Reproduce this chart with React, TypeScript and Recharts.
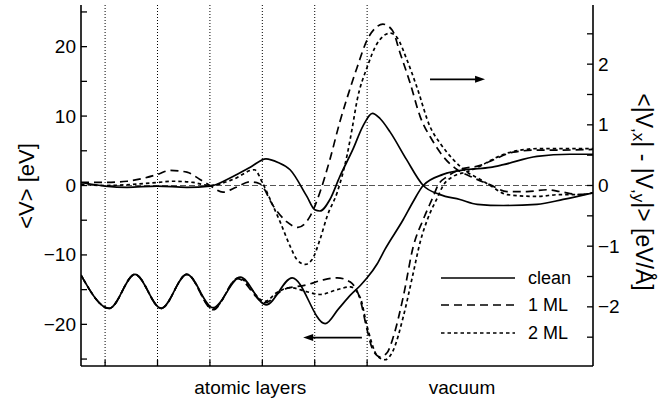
import { LineChart, Line, XAxis, YAxis, ReferenceLine, Legend } from 'recharts'

const FONT = '"Liberation Sans", Arial, Helvetica, sans-serif'

// x in units of the layer spacing, layers sit at 1..6
const layerPositions = [1, 2, 3, 4, 5, 6]
const xDomain = [0.54, 10.31]
const leftTicks = [-25, -20, -15, -10, -5, 0, 5, 10, 15, 20, 25]
const rightTicks = [-2.5, -2, -1.5, -1, -0.5, 0, 0.5, 1, 1.5, 2, 2.5]
const regionLabels = ['atomic layers', 'vacuum']
const regionCenters = [3.77, 7.81]
const seriesNames = ['clean', '1 ML', '2 ML']
const seriesDash = ['0', '8 5', '3.5 3']

// <V> [eV], left axis
const vClean = [
  [0.54, -12.9], [1.08, -17.7], [1.57, -12.8], [2.07, -17.7], [2.56, -12.8], [3.06, -17.6],
  [3.58, -13.2], [4.07, -17.2], [4.57, -13.3], [5.2, -19.9], [5.45, -17.8], [5.68, -15.8],
  [5.87, -14.4], [6.0, -13.3], [6.19, -11.3], [6.34, -9.2], [6.69, -4.9], [6.88, -2.3],
  [7.07, 0], [7.45, 1.6], [7.91, 2.3], [8.35, 2.6], [8.6, 3.0], [9.24, 4.2], [9.87, 4.5], [10.31, 4.5],
]
const v1ML = [
  [0.54, -12.9], [1.08, -17.7], [1.57, -12.8], [2.07, -17.7], [2.56, -12.8], [3.06, -17.9],
  [3.53, -13.4], [4.05, -16.9], [4.4, -15.0], [4.85, -14.3], [5.16, -13.6], [5.43, -13.3],
  [5.68, -13.9], [5.87, -16.5], [6.0, -20.8], [6.11, -23.7], [6.25, -24.7], [6.38, -24.1],
  [6.5, -21.8], [6.69, -16.0], [6.88, -8.8], [7.07, -4.9], [7.26, -1.6], [7.35, 0], [7.53, 1.3],
  [7.77, 2.3], [8.16, 2.9], [8.35, 3.5], [8.79, 4.8], [9.24, 5.1], [9.68, 5.1], [10.31, 5.2],
]
const v2ML = [
  [0.54, -12.9], [1.08, -17.7], [1.57, -12.8], [2.07, -17.7], [2.56, -12.8], [3.06, -17.8],
  [3.55, -13.3], [4.05, -16.7], [4.28, -15.4], [4.53, -14.7], [4.85, -15.3], [5.1, -15.7],
  [5.43, -15.0], [5.68, -14.6], [5.87, -16.2], [6.0, -20.3], [6.19, -24.5], [6.34, -25.1],
  [6.5, -23.7], [6.69, -18.9], [6.88, -12.6], [7.01, -8.2], [7.15, -4.9], [7.35, -1.6], [7.45, 0],
  [7.64, 1.3], [7.91, 2.0], [8.21, 3.0], [8.35, 3.6], [8.79, 4.9], [9.24, 5.3], [10.31, 5.3],
]

// <|V,x| - |V,y|> [eV/Å], right axis
const aClean = [
  [0.54, 0.05], [1.0, -0.01], [1.42, -0.03], [1.99, -0.01], [2.56, -0.03], [3.0, -0.01],
  [3.44, 0.15], [3.77, 0.3], [4.07, 0.44], [4.3, 0.38], [4.53, 0.26], [4.85, -0.18], [5.0, -0.4],
  [5.1, -0.42], [5.29, -0.23], [5.48, 0.15], [5.73, 0.6], [5.92, 0.98], [6.1, 1.19], [6.25, 1.1],
  [6.44, 0.88], [6.75, 0.43], [7.07, 0], [7.39, -0.15], [7.77, -0.23], [8.1, -0.31], [8.6, -0.33],
  [9.24, -0.31], [9.74, -0.23], [10.31, -0.12],
]
const a1ML = [
  [0.54, 0.05], [1.0, 0.05], [1.42, 0.07], [1.99, 0.18], [2.24, 0.25], [2.56, 0.22], [2.81, 0.1],
  [3.0, 0], [3.25, -0.11], [3.5, -0.03], [3.77, 0.06], [3.95, 0.03], [4.21, -0.34], [4.47, -0.6],
  [4.68, -0.69], [4.91, -0.51], [5.1, -0.11], [5.29, 0.43], [5.48, 1.05], [5.62, 1.45], [5.81, 1.95],
  [6.0, 2.4], [6.19, 2.62], [6.3, 2.66], [6.48, 2.56], [6.63, 2.18], [6.82, 1.69], [7.01, 1.14],
  [7.24, 0.75], [7.45, 0.48], [7.72, 0.26], [7.97, 0.15], [8.35, 0.01], [8.67, -0.1], [9.05, -0.1],
  [9.44, -0.07], [9.68, -0.1], [10.06, -0.15], [10.31, -0.12],
]
const a2ML = [
  [0.54, 0.02], [1.0, 0], [1.99, 0.05], [2.3, 0.07], [2.68, 0.05], [3.0, 0], [3.44, 0.1],
  [3.85, 0.26], [4.0, 0.05], [4.15, -0.23], [4.34, -0.6], [4.53, -1.0], [4.66, -1.22], [4.82, -1.3],
  [4.95, -1.22], [5.1, -0.89], [5.24, -0.5], [5.43, -0.11], [5.62, 0.51], [5.71, 0.92], [5.81, 1.41],
  [6.0, 1.95], [6.19, 2.34], [6.44, 2.51], [6.57, 2.44], [6.76, 2.07], [6.95, 1.62], [7.2, 0.97],
  [7.39, 0.7], [7.64, 0.43], [7.91, 0.22], [8.16, 0.1], [8.35, 0], [8.67, -0.15], [9.24, -0.18],
  [9.68, -0.15], [10.06, -0.15], [10.31, -0.12],
]

const pts = (a: number[][]) => a.map(([x, y]) => ({ x, y }))
const fmt = (v: number) => (v < 0 ? '\u2212' + Math.abs(v) : String(v))

function LeftTick({ x, y, payload }: any) {
  const v = payload.value
  return (
    <g>
      <line x1={x + 5} x2={x + 11} y1={y} y2={y} stroke="#000" strokeWidth={1.3} />
      {v % 10 === 0 && (
        <text x={x} y={y} textAnchor="end" dominantBaseline="central" fontSize={19} fontFamily={FONT} fill="#000">
          {fmt(v)}
        </text>
      )}
    </g>
  )
}

function RightTick({ x, y, payload }: any) {
  const v = payload.value
  return (
    <g>
      <line x1={x - 5} x2={x - 11} y1={y} y2={y} stroke="#000" strokeWidth={1.3} />
      {Number.isInteger(v) && (
        <text x={x} y={y} textAnchor="start" dominantBaseline="central" fontSize={19} fontFamily={FONT} fill="#000">
          {fmt(v)}
        </text>
      )}
    </g>
  )
}

function BottomTick({ x, y, payload }: any) {
  const i = regionCenters.indexOf(payload.value)
  if (i >= 0) {
    return (
      <text x={x} y={y + 28} textAnchor="middle" fontSize={19} fontFamily={FONT} fill="#000">
        {regionLabels[i]}
      </text>
    )
  }
  return <line x1={x} x2={x} y1={y} y2={y - 6} stroke="#000" strokeWidth={1.3} />
}

function Arrow({ x1, y1, x2, y2 }: any) {
  const d = Math.sign(x2 - x1)
  return (
    <g>
      <line x1={x1} y1={y1} x2={x2 - d * 6} y2={y2} stroke="#000" strokeWidth={1.7} />
      <polygon points={`${x2},${y2} ${x2 - d * 10},${y2 - 3.5} ${x2 - d * 10},${y2 + 3.5}`} fill="#000" />
    </g>
  )
}

function LegendBox() {
  return (
    <div style={{ fontFamily: FONT, fontSize: 18, color: '#000' }}>
      {seriesNames.map((n, i) => (
        <div key={n} style={{ display: 'flex', alignItems: 'center', height: 27.5 }}>
          <svg width={74} height={4} style={{ display: 'block' }}>
            <line x1={0} x2={74} y1={2} y2={2} stroke="#000" strokeWidth={1.7} strokeDasharray={seriesDash[i]} />
          </svg>
          <span style={{ marginLeft: 13, lineHeight: '18px' }}>{n}</span>
        </div>
      ))}
    </div>
  )
}

export default function App() {
  const lineProps = {
    type: 'monotone' as const,
    dataKey: 'y',
    stroke: '#000',
    strokeWidth: 1.7,
    dot: false,
    isAnimationActive: false,
  }
  return (
    <div style={{ position: 'absolute', left: 0, top: 0, background: '#fff' }}>
      <LineChart width={659} height={406} margin={{ top: 5, right: 0, bottom: 0, left: 0 }}>
        <XAxis
          type="number"
          dataKey="x"
          domain={xDomain}
          allowDataOverflow
          ticks={[...layerPositions, ...regionCenters]}
          interval={0}
          height={40}
          tickSize={0}
          tickMargin={0}
          tickLine={false}
          tick={<BottomTick />}
          axisLine={{ stroke: '#000', strokeWidth: 1.6 }}
        />
        <XAxis
          xAxisId="top"
          orientation="top"
          type="number"
          domain={xDomain}
          height={0}
          tick={false}
          tickLine={false}
          axisLine={{ stroke: '#000', strokeWidth: 1.6 }}
        />
        <YAxis
          yAxisId="left"
          type="number"
          domain={[-26, 26]}
          allowDataOverflow
          ticks={leftTicks}
          interval={0}
          width={81}
          tickSize={0}
          tickMargin={5}
          tickLine={false}
          tick={<LeftTick />}
          axisLine={{ stroke: '#000', strokeWidth: 1.6 }}
          label={{
            content: ({ viewBox }: any) => (
              <text
                x={viewBox.x + 26}
                y={186}
                transform={`rotate(-90 ${viewBox.x + 26} 186)`}
                textAnchor="middle"
                dominantBaseline="central"
                fontSize={22}
                fontFamily={FONT}
                fill="#000"
              >
                {'<V> [eV]'}
              </text>
            ),
          }}
        />
        <YAxis
          yAxisId="right"
          orientation="right"
          type="number"
          domain={[-2.975, 2.975]}
          allowDataOverflow
          ticks={rightTicks}
          interval={0}
          width={66}
          tickSize={0}
          tickMargin={5}
          tickLine={false}
          tick={<RightTick />}
          axisLine={{ stroke: '#000', strokeWidth: 1.6 }}
          label={{
            content: ({ viewBox }: any) => {
              const cx = viewBox.x + 51
              return (
                <text
                  x={cx}
                  y={192}
                  transform={`rotate(90 ${cx} 192)`}
                  textAnchor="middle"
                  dominantBaseline="central"
                  fontSize={23}
                  fontFamily={FONT}
                  fill="#000"
                >
                  {'<|V'}
                  <tspan fontSize={17} dy={5}>,x</tspan>
                  <tspan dy={-5}>{'| - |V'}</tspan>
                  <tspan fontSize={17} dy={5}>,y</tspan>
                  <tspan dy={-5}>{'|> [eV/Å]'}</tspan>
                </text>
              )
            },
          }}
        />
        {layerPositions.map((p) => (
          <ReferenceLine key={p} x={p} yAxisId="left" stroke="#000" strokeWidth={1} strokeDasharray="1 2" />
        ))}
        <ReferenceLine y={0} yAxisId="left" stroke="#555" strokeWidth={1.2} strokeDasharray="6 3" />

        <Line {...lineProps} yAxisId="left" data={pts(vClean)} name="clean V" legendType="none" />
        <Line {...lineProps} yAxisId="left" data={pts(v1ML)} name="1 ML V" strokeDasharray={seriesDash[1]} legendType="none" />
        <Line {...lineProps} yAxisId="left" data={pts(v2ML)} name="2 ML V" strokeDasharray={seriesDash[2]} legendType="none" />
        <Line {...lineProps} yAxisId="right" data={pts(aClean)} name="clean" />
        <Line {...lineProps} yAxisId="right" data={pts(a1ML)} name="1 ML" strokeDasharray={seriesDash[1]} />
        <Line {...lineProps} yAxisId="right" data={pts(a2ML)} name="2 ML" strokeDasharray={seriesDash[2]} />

        <ReferenceLine
          yAxisId="right"
          segment={[{ x: 7.2, y: 1.75 }, { x: 8.25, y: 1.75 }]}
          shape={(p: any) => <Arrow {...p} />}
        />
        <ReferenceLine
          yAxisId="left"
          segment={[{ x: 5.9, y: -21.9 }, { x: 4.78, y: -21.9 }]}
          shape={(p: any) => <Arrow {...p} />}
        />
        <Legend
          layout="vertical"
          align="center"
          verticalAlign="middle"
          content={() => <LegendBox />}
          wrapperStyle={{ left: 441, top: 264, width: 'auto', height: 'auto' }}
        />
      </LineChart>
    </div>
  )
}
